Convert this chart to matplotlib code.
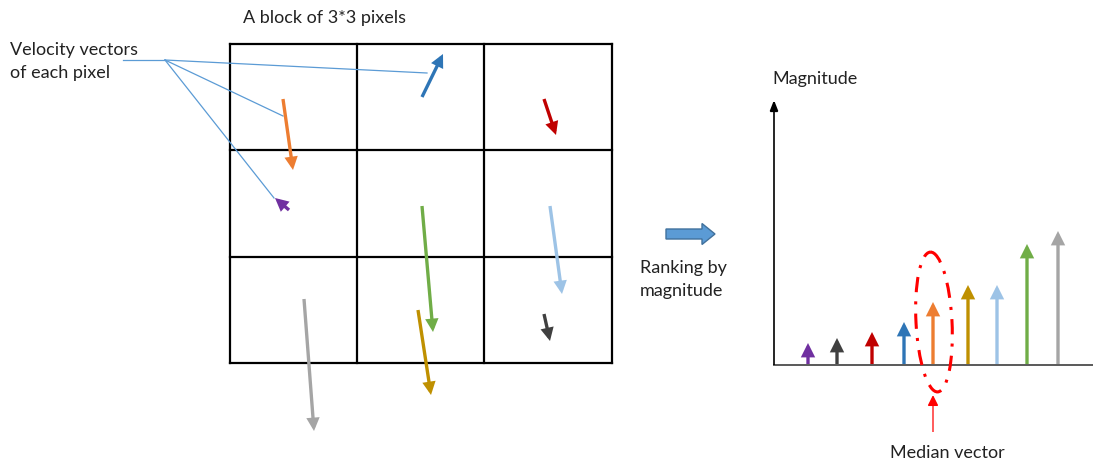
import matplotlib
matplotlib.use("Agg")
import matplotlib.pyplot as plt
from matplotlib.patches import Ellipse, FancyArrow, FancyArrowPatch

plt.rcParams['font.family'] = ['Lato', 'DejaVu Sans']

# ---- data ----
names = ["purple", "black", "red", "blue", "orange", "gold", "lightblue", "green", "gray"]
colors = ["#7030A0", "#404040", "#C00000", "#2E75B6", "#ED7D31", "#BF9000", "#9DC3E6", "#70AD47", "#A5A5A5"]
# velocity vectors in the 3x3 block: start point (px) and components (px)
vec_x0 = [289, 544, 544, 422, 283, 418, 550, 422, 304]
vec_y0 = [211, 315, 100, 98, 100, 311, 207, 207, 300]
vec_u = [-14, 6, 12, 21, 10, 13, 12, 11, 10]
vec_v = [-12, 27, 36, -43, 71, 85, 88, 126, 132]
# ranked magnitudes (px on the ranking axis)
ranked_mag = [21, 26, 32, 42, 62, 79, 79, 120, 133]
ranked_x = [808, 837, 872, 904, 933, 968, 997, 1027, 1058]
median_index = 4

grid_x = [230, 357, 484, 612]
grid_y = [45, 151, 258, 364]

W, H = 1093, 464
PT = 0.72  # points per pixel at dpi 100
fig = plt.figure(figsize=(W / 100, H / 100), dpi=100)
ax = fig.add_axes([0, 0, 1, 1])
ax.set_xlim(0, W)
ax.set_ylim(H, 0)
ax.axis("off")

# grid
for gx in grid_x:
    ax.plot([gx, gx], [grid_y[0], grid_y[-1]], color="black", lw=1.6, solid_capstyle="projecting")
for gy in grid_y:
    ax.plot([grid_x[0], grid_x[-1]], [gy, gy], color="black", lw=1.6, solid_capstyle="projecting")

def arrow(x0, y0, x1, y1, color, lw=2.3, wpx=10, lpx=9, z=3):
    p = FancyArrowPatch((x0, y0), (x1, y1),
                        arrowstyle=f"-|>,head_width={wpx/2*PT:.2f},head_length={lpx*PT:.2f}",
                        mutation_scale=1, color=color, lw=lw, shrinkA=0, shrinkB=0,
                        capstyle="butt", joinstyle="miter", zorder=z)
    ax.add_patch(p)

# velocity vectors
for x0, y0, u, v, c in zip(vec_x0, vec_y0, vec_u, vec_v, colors):
    arrow(x0, y0, x0 + u, y0 + v, c, lw=2.4, wpx=8, lpx=8)

# callout
lc = "#5B9BD5"
FS = 13
ax.text(10, 50, "Velocity vectors", fontsize=FS, va="center", ha="left", color="#222222")
ax.text(10, 73, "of each pixel", fontsize=FS, va="center", ha="left", color="#222222")
hub = (165, 61)
ax.plot([123, hub[0]], [61, 61], color=lc, lw=0.9)
for tx, ty in [(427, 74), (283, 117), (274, 199)]:
    ax.plot([hub[0], tx], [hub[1], ty], color=lc, lw=0.9, zorder=2)

ax.text(243, 18, "A block of 3*3 pixels", fontsize=FS, va="center", ha="left", color="#222222")

# big block arrow
ax.add_patch(FancyArrow(666, 235, 36, 0, width=10, head_width=21, head_length=13,
                        length_includes_head=False, fc="#5B9BD5", ec="#41719C", lw=1.0))
ax.text(640, 268, "Ranking by", fontsize=FS, va="center", ha="left", color="#222222")
ax.text(640, 291, "magnitude", fontsize=FS, va="center", ha="left", color="#222222")

# ranking axes
base = 366
ax.plot([774, W], [base, base], color="#595959", lw=1.4)
arrow(774, base, 774, 101, "black", lw=1.2, wpx=7, lpx=9)
ax.text(772, 79, "Magnitude", fontsize=FS, va="center", ha="left", color="#222222")

for xr, m, c in zip(ranked_x, ranked_mag, colors):
    arrow(xr, base - 1, xr, base - 1 - m, c, lw=2.4, wpx=9, lpx=9)

# median ellipse
ax.add_patch(Ellipse((934, 323), 36, 140, angle=-3, fill=False, ec="#FF0000",
                     lw=2.2, ls=(0, (5, 3, 1, 3)), zorder=4))
arrow(933, 433, 933, 396, "#FF0000", lw=0.9, wpx=9, lpx=9)
ax.text(890, 453, "Median vector", fontsize=FS, va="center", ha="left", color="#222222")

fig.savefig("out.png", dpi=100)
